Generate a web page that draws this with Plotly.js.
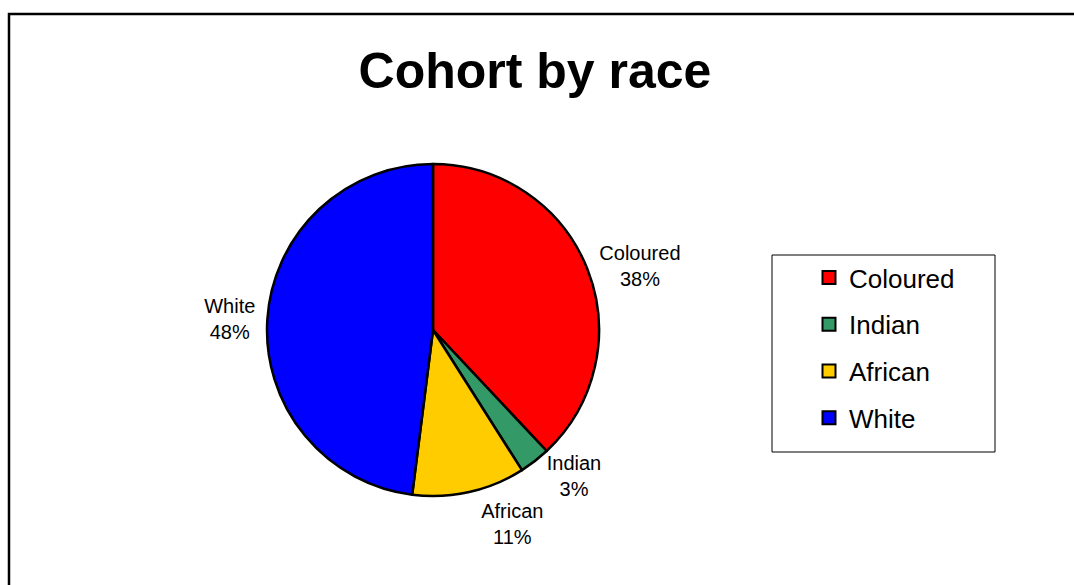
<!DOCTYPE html>
<html>
<head>
<meta charset="utf-8">
<script src="https://cdn.plot.ly/plotly-3.0.1.min.js"></script>
<style>html,body{margin:0;padding:0;background:#fff;}#chart{width:1074px;height:585px;}</style>
</head>
<body>
<div id="chart"></div>
<script>
const categories = ["Coloured", "Indian", "African", "White"];
const shares = [38, 3, 11, 48];
const colors = ["#FF0000", "#339966", "#FFCC00", "#0000FF"];
const chartTitle = "Cohort by race";

const FONT = "Liberation Sans, Arial, sans-serif";

const pie = {
  type: "pie",
  labels: categories,
  values: shares,
  sort: false,
  direction: "clockwise",
  rotation: 0,
  marker: {colors: colors, line: {color: "#000", width: 2.5}},
  textposition: "outside",
  texttemplate: "%{label}<br>%{percent:.0%}",
  textfont: {family: FONT, size: 20, color: "#000"},
  outsidetextfont: {family: FONT, size: 20, color: "#000"},
  showlegend: false,
  hoverinfo: "none",
  domain: {x: [267/1074, 599/1074], y: [1 - 496/585, 1 - 164/585]}
};

const legendTraces = categories.map((c, i) => ({
  type: "scatter",
  mode: "markers",
  x: [null], y: [null],
  name: c,
  legendgroup: c,
  marker: {symbol: "square", size: 13, color: colors[i], line: {color: "#000", width: 2}},
  hoverinfo: "none"
}));

const layout = {
  width: 1074, height: 585,
  margin: {l: 0, r: 0, t: 0, b: 0},
  paper_bgcolor: "#fff", plot_bgcolor: "rgba(0,0,0,0)",
  font: {family: FONT, color: "#000"},
  title: {text: "<b>" + chartTitle + "</b>", font: {family: FONT, size: 50, color: "#000"},
          x: 535/1074, xanchor: "center", y: 1 - 70/585, yanchor: "middle", yref: "container"},
  xaxis: {visible: false, fixedrange: true},
  yaxis: {visible: false, fixedrange: true},
  showlegend: true,
  legend: {
    x: 809/1074, xanchor: "left", y: 1 - 254/585, yanchor: "top",
    bgcolor: "rgba(0,0,0,0)", borderwidth: 0,
    font: {family: FONT, size: 26, color: "#000"},
    traceorder: "grouped", tracegroupgap: 10,
    itemclick: false, itemdoubleclick: false
  },
  shapes: [
    {type: "rect", xref: "paper", yref: "paper", x0: 9/1074, x1: 1.02, y0: -0.02, y1: 1 - 14/585,
     line: {color: "#000", width: 2.5}, fillcolor: "rgba(0,0,0,0)", layer: "below"},
    {type: "rect", xref: "paper", yref: "paper", x0: 772/1074, x1: 995/1074, y0: 1 - 452/585, y1: 1 - 255/585,
     line: {color: "#000", width: 1}, fillcolor: "rgba(0,0,0,0)", layer: "below"}
  ],
  hovermode: false
};

Plotly.newPlot("chart", [pie].concat(legendTraces), layout, {displayModeBar: false, staticPlot: true})
  .then(gd => {
    gd.querySelectorAll(".textline").forEach(el => el.remove());
  });
</script>
</body>
</html>
